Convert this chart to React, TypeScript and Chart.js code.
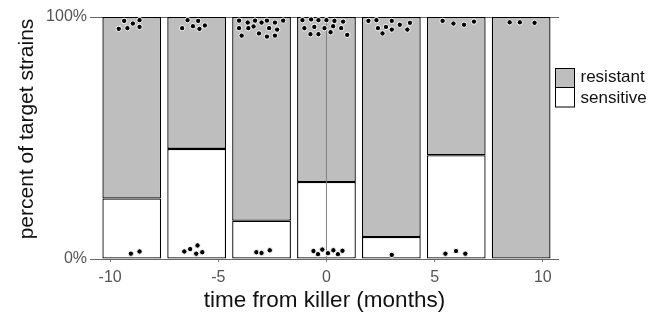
import React, { useEffect, useRef } from 'react';
import { Chart, registerables } from 'chart.js';

Chart.register(...registerables);

// ---- data ----
const binCenters = [-9, -6, -3, 0, 3, 6, 9];
const sensitivePct = [25, 45.5, 15.8, 31.8, 9.1, 42.9, 0];
const resistantPct = [75, 54.5, 84.2, 68.2, 90.9, 57.1, 100];

const resistantDotX = [
  -9.35, -8.64, -8.95, -8.64, -9.2, -9.6,
  -6.42, -5.93, -6.17, -5.62, -5.87, -6.67,
  -4.04, -3.3, -2.75, -2.0, -3.64, -3.0, -2.38, -4.04, -3.37, -2.65, -2.28, -3.61, -3.92, -3.12, -2.75, -2.38,
  -1.11, -0.71, -0.37, 0.0, 0.37, 0.77, -1.02, -0.56, -0.09, 0.31, 0.68, -0.74, -0.37, 0.19, 0.96,
  1.94, 2.31, 3.02, 3.86, 3.39, 2.38, 2.75, 3.02, 3.74, 2.59,
  5.37, 5.87, 6.36, 6.82,
  8.47, 8.94, 9.62,
];
const resistantDotY = [
  98.4, 98.7, 97.3, 95.9, 95.4, 95.1,
  98.7, 98.4, 96.2, 96.5, 95.1, 95.4,
  98.5, 98.5, 98.5, 98.5, 97.7, 97.7, 97.7, 95.4, 96.1, 95.4, 94.8, 95.4, 92.3, 93.2, 91.9, 92.3,
  98.7, 99.0, 98.7, 98.7, 98.4, 98.1, 95.4, 95.9, 95.4, 96.2, 95.4, 92.9, 92.9, 93.7, 92.6,
  98.4, 98.7, 98.4, 97.6, 96.8, 95.4, 95.9, 94.8, 94.8, 93.2,
  98.4, 97.3, 96.8, 98.1,
  97.8, 97.8, 97.6,
];
const sensitiveDotX = [
  -9.04, -8.64,
  -6.57, -6.3, -5.96, -6.02, -5.74,
  -3.24, -3.0, -2.62,
  -0.6, -0.39, -0.19, 0.07, 0.32, 0.53, 0.74,
  3.02,
  5.5, 5.99, 6.42,
];
const sensitiveDotY = [
  2.2, 3.1,
  3.1, 4.1, 5.6, 2.2, 2.8,
  2.8, 2.5, 3.6,
  3.3, 2.0, 3.9, 2.4, 3.6, 2.0, 3.4,
  1.7,
  2.2, 3.3, 2.2,
];

const killerTime = [0];
const xTickValues = [-10, -5, 0, 5, 10];
const yTickValues = [0, 100];
const seriesLabels = ['resistant', 'sensitive'];
const xTitle = 'time from killer (months)';
const yTitle = 'percent of target strains';

const FONT = "'Liberation Sans', Arial, Helvetica, sans-serif";
const GRAY = '#bebebe';

const overlayPlugin = {
  id: 'overlay',
  afterDraw(chart: any) {
    const ctx = chart.ctx;
    ctx.save();
    // y-axis title
    ctx.translate(27, 129);
    ctx.rotate(-Math.PI / 2);
    ctx.font = `21px ${FONT}`;
    ctx.fillStyle = '#111';
    ctx.textAlign = 'center';
    ctx.textBaseline = 'middle';
    ctx.fillText(yTitle, 0, 0);
    ctx.restore();

    // legend
    ctx.save();
    const boxX = 555.5;
    const boxW = 19;
    const tops = [68.5, 87.5];
    const hs = [19, 19.5];
    const fills = [GRAY, '#ffffff'];
    const textY = [77, 98];
    ctx.lineWidth = 1;
    ctx.strokeStyle = '#000';
    seriesLabels.forEach((lab, i) => {
      ctx.fillStyle = fills[i];
      ctx.fillRect(boxX, tops[i], boxW, hs[i]);
      ctx.strokeRect(boxX, tops[i], boxW, hs[i]);
      ctx.fillStyle = '#111';
      ctx.font = `17px ${FONT}`;
      ctx.textAlign = 'left';
      ctx.textBaseline = 'middle';
      ctx.fillText(lab, 580.5, textY[i]);
    });
    ctx.restore();
  },
};

export default function App() {
  const ref = useRef<HTMLCanvasElement | null>(null);

  useEffect(() => {
    document.body.style.margin = '0';
    const canvas = ref.current;
    if (!canvas) return;

    const barCommon = {
      borderColor: '#000',
      borderWidth: 1.3,
      borderSkipped: false,
      stack: 's',
      order: 3,
      barPercentage: 0.905,
      categoryPercentage: 1,
    };

    const chart = new Chart(canvas, {
      type: 'bar',
      data: {
        datasets: [
          {
            ...barCommon,
            label: seriesLabels[1],
            data: binCenters.map((x, i) => ({ x, y: sensitivePct[i] })),
            backgroundColor: '#ffffff',
          } as any,
          {
            ...barCommon,
            label: seriesLabels[0],
            data: binCenters.map((x, i) => ({ x, y: resistantPct[i] })),
            backgroundColor: GRAY,
          } as any,
          {
            type: 'line',
            label: 'killer',
            data: [
              { x: killerTime[0], y: yTickValues[0] },
              { x: killerTime[0], y: yTickValues[1] },
            ],
            borderColor: '#808080',
            borderWidth: 1,
            pointRadius: 0,
            order: 2,
          } as any,
          {
            type: 'scatter',
            label: 'strains',
            data: [
              ...resistantDotX.map((x, i) => ({ x, y: resistantDotY[i] })),
              ...sensitiveDotX.map((x, i) => ({ x, y: sensitiveDotY[i] })),
            ],
            backgroundColor: '#000',
            borderColor: '#fff',
            borderWidth: 1,
            pointRadius: 2.7,
            order: 1,
          } as any,
        ],
      },
      options: {
        animation: false,
        responsive: false,
        devicePixelRatio: 1,
        layout: { padding: { top: 17, right: 101, left: 0, bottom: 0 } },
        plugins: {
          legend: { display: false },
          tooltip: { enabled: false },
        },
        scales: {
          x: {
            type: 'linear',
            offset: false,
            min: -10.93,
            max: 10.75,
            afterBuildTicks: (s: any) => {
              s.ticks = xTickValues.map((v) => ({ value: v }));
            },
            afterFit: (s: any) => {
              s.height = 53;
            },
            ticks: {
              font: { family: FONT, size: 16 },
              color: '#555',
              padding: 6,
              maxRotation: 0,
              autoSkip: false,
              callback: (v: any) => String(v),
            },
            grid: {
              offset: false,
              drawOnChartArea: false,
              drawTicks: true,
              tickLength: 3,
              color: '#777',
              lineWidth: 1,
            },
            border: { display: false },
            title: {
              display: true,
              text: xTitle,
              color: '#111',
              font: { family: FONT, size: 22.5, lineHeight: 1 },
              padding: 0,
            },
          },
          y: {
            type: 'linear',
            min: 0,
            max: 100,
            afterBuildTicks: (s: any) => {
              s.ticks = yTickValues.map((v) => ({ value: v }));
            },
            afterFit: (s: any) => {
              s.width = 90;
            },
            ticks: {
              font: { family: FONT, size: 16 },
              color: '#555',
              padding: 3,
              callback: (v: any) => `${v}%`,
            },
            grid: {
              drawTicks: false,
              color: '#666',
              lineWidth: 1,
            },
            border: { display: false },
          },
        },
      } as any,
      plugins: [overlayPlugin],
    });

    return () => chart.destroy();
  }, []);

  return (
    <div style={{ width: 660, height: 312, position: 'relative' }}>
      <canvas ref={ref} width={660} height={312} style={{ display: 'block', width: 660, height: 312 }} />
    </div>
  );
}
